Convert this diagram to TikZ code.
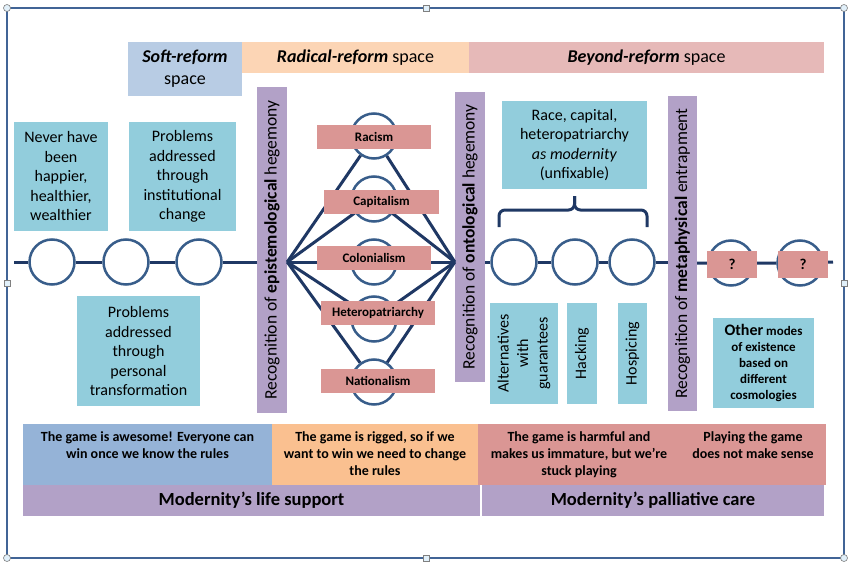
\documentclass[tikz,border=0pt]{standalone}
\usepackage{fontspec}
\setmainfont{Carlito}
\usepackage{tikz}
\usepackage{xcolor}

\definecolor{aqua}{RGB}{146,205,220}
\definecolor{lilac}{RGB}{178,161,199}
\definecolor{rose}{RGB}{218,150,148}
\definecolor{navy}{RGB}{31,56,100}
\definecolor{ringblue}{RGB}{56,93,138}
\definecolor{softblue}{RGB}{184,204,228}
\definecolor{peach}{RGB}{252,213,181}
\definecolor{blush}{RGB}{230,185,184}
\definecolor{gameblue}{RGB}{149,179,215}
\definecolor{gameorange}{RGB}{250,192,144}
\definecolor{framec}{RGB}{65,100,150}
\definecolor{handle}{RGB}{225,240,250}

\newcommand{\fs}[2]{\fontsize{#1}{#2}\selectfont}

\begin{document}
\begin{tikzpicture}[x=1pt, y=-1pt,
    box/.style={fill=aqua, inner sep=0pt, align=center, font=\fs{16}{19.5}},
    bar/.style={fill=lilac, inner sep=0pt, rotate=90, font=\fs{17.5}{20}},
    ring/.style={circle, draw=ringblue, line width=2.5pt, fill=white, inner sep=0pt, minimum size=45},
    tag/.style={fill=rose, inner sep=0pt, minimum height=24, font=\bfseries\fs{13}{14}},
    link/.style={draw=navy, line width=3pt},
    head/.style={inner sep=0pt, align=center, font=\fs{18}{22}},
    cell/.style={inner sep=0pt, minimum height=61},
    game/.style={inner sep=0pt, align=center, anchor=north, font=\bfseries\fs{14}{17}}]

    \useasboundingbox (0,0) rectangle (850,564);
    \fill[white] (0,0) rectangle (850,564);
    \draw[framec, line width=2.5pt] (7,8) rectangle (844,558);
    \foreach \p in {(7,8),(844,8),(7,558),(844,558)}
        \draw[gray, fill=handle, line width=0.6pt] \p circle (3.5);
    \foreach \p in {(426,8),(7,283),(844,283),(426,558)}
        \draw[gray, fill=handle, line width=0.6pt, shift={\p}] (-3,-3) rectangle (3,3);

    % spaces
    \node[head, fill=softblue, minimum width=114, minimum height=54] (soft) at (185,69) {\textbf{\textit{Soft-reform}}\\space};
    \node[head, fill=peach, minimum width=227, minimum height=31] (radical) at (355.5,57.5) {\textbf{\textit{Radical-reform}} space};
    \node[head, fill=blush, minimum width=355, minimum height=31] (beyond) at (646.5,57.5) {\textbf{\textit{Beyond-reform}} space};

    \node[box, minimum width=94, minimum height=109] (never) at (61,176.5) {Never have\\been\\happier,\\healthier,\\wealthier};
    \node[box, minimum width=107, minimum height=109] (inst) at (182.5,176.5) {Problems\\addressed\\through\\institutional\\change};
    \node[box, minimum width=123, minimum height=110] (pers) at (138.5,351) {Problems\\addressed\\through\\personal\\transformation};

    \node[bar, minimum width=326, minimum height=30] (epi) at (272,250) {Recognition of \textbf{epistemological} hegemony};
    \node[bar, minimum width=290, minimum height=30] (onto) at (470,237) {Recognition of \textbf{ontological} hegemony};
    \node[bar, minimum width=315, minimum height=29] (meta) at (682.5,253.5) {Recognition of \textbf{metaphysical} entrapment};

    % the line
    \coordinate (start) at (14,262);
    \node[ring] (l1) at (52,262) {};
    \node[ring] (l2) at (126,262) {};
    \node[ring] (l3) at (199,262) {};
    \draw[link] (start) -- (l1) -- (l2) -- (l3) -- (l3 -| epi.north);

    \node[ring] (rac) at (374,136) {};
    \node[ring] (cap) at (374,199) {};
    \node[ring] (col) at (374,262) {};
    \node[ring] (het) at (374,319) {};
    \node[ring] (nat) at (374,382) {};
    \coordinate (lhub) at (epi.south |- col);
    \coordinate (rhub) at (onto.north |- col);
    \foreach \n in {rac,cap,col,het,nat}
        \draw[link] (lhub) -- (\n) -- (rhub);

    \node[tag, minimum width=114] (racism) at (374,137) {Racism};
    \node[tag, minimum width=115] (capitalism) at (381.5,202) {Capitalism};
    \node[tag, minimum width=114] (colonialism) at (374,258) {Colonialism};
    \node[tag, minimum width=114] (hetero) at (378,313) {Heteropatriarchy};
    \node[tag, minimum width=114] (nation) at (378,381) {Nationalism};

    \node[box, minimum width=145, minimum height=88] (race) at (574.5,145) {Race, capital,\\heteropatriarchy\\\textit{as modernity}\\(unfixable)};
    \coordinate (bl) at (499,227);
    \coordinate (br) at (647,227);
    \coordinate (tip) at (574.5,196);
    \draw[link, rounded corners=6] (bl) |- (574.5,210) -- (tip);
    \draw[link, rounded corners=6] (br) |- (574.5,210) -- (tip);

    \node[ring] (r1) at (514,262) {};
    \node[ring] (r2) at (575,262) {};
    \node[ring] (r3) at (632,262) {};
    \draw[link] (onto.south |- r1) -- (r1) -- (r2) -- (r3) -- (meta.north |- r3);

    \node[box, rotate=90, minimum width=101, minimum height=68] (alt) at (524,353.5) {Alternatives\\with\\guarantees};
    \node[box, rotate=90, minimum width=101, minimum height=30] (hack) at (582,353.5) {Hacking};
    \node[box, rotate=90, minimum width=101, minimum height=29] (hosp) at (632.5,353.5) {Hospicing};

    \coordinate (end) at (833,262);
    \node[ring] (q1) at (731,263) {};
    \node[ring] (q2) at (800,263) {};
    \draw[link] (meta.south |- q1) -- (q1) -- (q2) -- (end);
    \node[tag, minimum width=50, minimum height=27, font=\bfseries\fs{15}{16}] (qa) at (732,264.5) {?};
    \node[tag, minimum width=50, minimum height=27, font=\bfseries\fs{15}{16}] (qb) at (803,264.5) {?};

    \node[box, minimum width=101, minimum height=90, font=\bfseries\fs{13}{16}] (other) at (763.5,363) {{\fs{16}{16}Other} modes\\of existence\\based on\\different\\cosmologies};

    % the game
    \node[cell, fill=gameblue, minimum width=249] (awesome) at (147.5,454.5) {};
    \node[cell, fill=gameorange, minimum width=206] (rigged) at (375,454.5) {};
    \node[cell, fill=rose, minimum width=202.5] (harmful) at (579,454.5) {};
    \node[cell, fill=rose, minimum width=146.5] (nosense) at (752.5,454.5) {};
    \node[game] (awesometext) at (147.5,431) {The game is awesome! Everyone can\\win once we know the rules};
    \node[game] (riggedtext) at (375,431) {The game is rigged, so if we\\want to win we need to change\\the rules};
    \node[game] (harmfultext) at (579,431) {The game is harmful and\\makes us immature, but we’re\\stuck playing};
    \node[game] (nosensetext) at (753,431) {Playing the game\\does not make sense};

    \node[cell, fill=lilac, minimum width=457, minimum height=31, font=\bfseries\fs{18.5}{20}] (life) at (251.5,500.5) {Modernity’s life support};
    \node[cell, fill=lilac, minimum width=342, minimum height=31, font=\bfseries\fs{18.5}{20}] (palliative) at (653,500.5) {Modernity’s palliative care};
\end{tikzpicture}
\end{document}
